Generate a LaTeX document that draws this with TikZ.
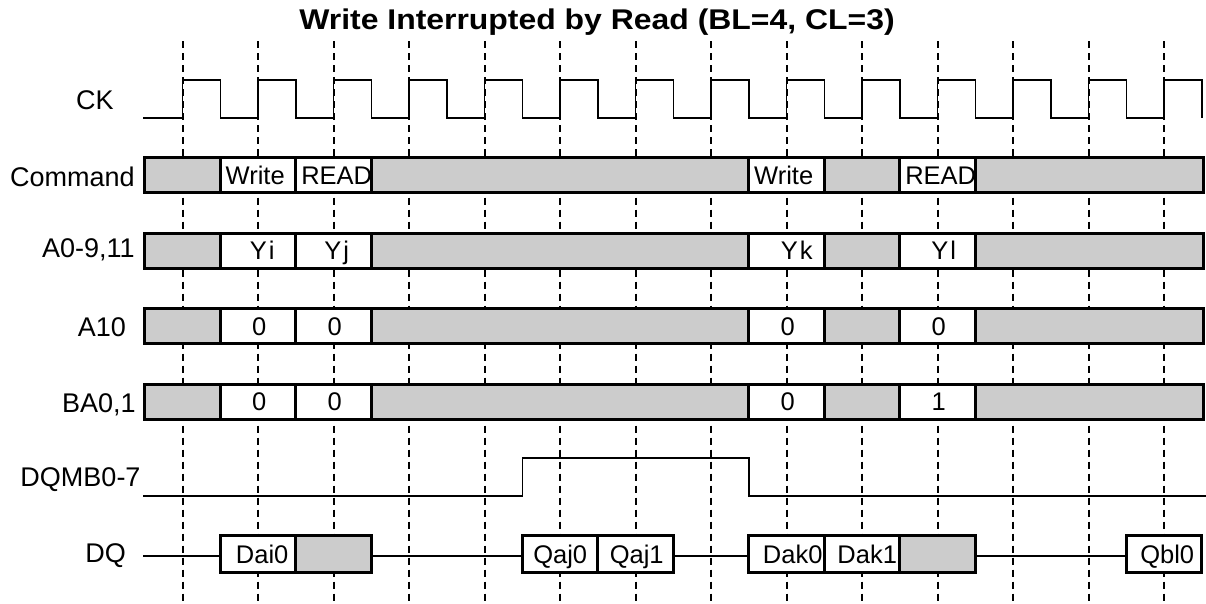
\documentclass[tikz,border=0pt]{standalone}
\usepackage{fontspec}
\setmainfont{Liberation Sans}
\definecolor{busgray}{RGB}{204,204,204}
\tikzset{
  gridline/.style={line width=1.9pt, dash pattern=on 7pt off 5pt},
  clk/.style={line width=1.5pt},
  sig/.style={line width=1.8pt},
  busbox/.style={draw, line width=3pt, rectangle, inner sep=0pt, outer sep=0pt},
  boxtxt/.style={font=\fontsize{25.5}{30}\selectfont, text height=18.2pt, text depth=0pt, inner sep=0pt},
  lbl/.style={font=\fontsize{27}{31}\selectfont, text height=19.3pt, text depth=0pt, inner sep=0pt},
}
\newcommand{\bseg}[8]{%
  \node[busbox, fill=#5, minimum height=#8, minimum width={75.5*((#4)-(#3))}] (#1) at ({182.7+75.5*((#3)+(#4))/2},#2) {};
  \node[boxtxt, xshift=#7] (#1t) at (#1.center) {#6};
}
\begin{document}
\begin{tikzpicture}[x=1pt,y=-1pt]
\useasboundingbox[fill=white] (0,0) rectangle (1206,604);

% title
\node[font=\fontsize{28.5}{33}\selectfont\bfseries, text height=20.4pt, text depth=0pt, inner sep=0pt] (title) at (597,19.7) {\scalebox{1.12}[1]{Write Interrupted by Read (BL=4, CL=3)}};

% dashed clock edge lines
\foreach \k in {0,...,13} {
  \draw[gridline] ({182.7+75.5*\k},41.5) -- ({182.7+75.5*\k},604);
}

% labels
\node[lbl] (lck)  at (95,99.7)   {CK};
\node[lbl] (lcmd) at (72.5,176.7) {Command};
\node[lbl] (ladr) at (88.3,248)  {A0-9,11};
\node[lbl] (la10) at (101.8,327) {A10};
\node[lbl] (lba)  at (98.8,403)  {BA0,1};
\node[lbl] (ldqm) at (80.5,477)  {DQMB0-7};
\node[lbl] (ldq)  at (105.6,552.5) {DQ};

% clock
\draw[clk] (143.3,118) -- (182.7,118)
  foreach \k in {0,...,12} {
    -- ({182.7+75.5*\k},80) -- ({182.7+75.5*(\k+0.5)},80)
    -- ({182.7+75.5*(\k+0.5)},118) -- ({182.7+75.5*(\k+1)},118)
  }
  -- ({182.7+75.5*13},80) -- ({182.7+75.5*13.5},80) -- ({182.7+75.5*13.5},118);

% DQMB
\draw[sig] (143.3,496) -- ({182.7+75.5*4.5},496) -- ({182.7+75.5*4.5},458.3)
  -- ({182.7+75.5*7.5},458.3) -- ({182.7+75.5*7.5},496) -- (1206,496);

% DQ connecting line pieces
\coordinate (dqs) at (143.3,556);

% Command
\bseg{c1}{175}{-0.5}{0.5}{busgray}{}{0pt}{35pt}
\bseg{c2}{175}{0.5}{1.5}{white}{Write}{-3pt}{35pt}
\bseg{c3}{175}{1.5}{2.5}{white}{READ}{3pt}{35pt}
\bseg{c4}{175}{2.5}{7.5}{busgray}{}{0pt}{35pt}
\bseg{c5}{175}{7.5}{8.5}{white}{Write}{-3pt}{35pt}
\bseg{c6}{175}{8.5}{9.5}{busgray}{}{0pt}{35pt}
\bseg{c7}{175}{9.5}{10.5}{white}{READ}{3pt}{35pt}
\bseg{c8}{175}{10.5}{13.514}{busgray}{}{0pt}{35pt}

% A0-9,11
\bseg{a1}{250.5}{-0.5}{0.5}{busgray}{}{0pt}{35pt}
\bseg{a2}{250.5}{0.5}{1.5}{white}{Y\kern2pt i}{4pt}{35pt}
\bseg{a3}{250.5}{1.5}{2.5}{white}{Y\kern2pt j}{3pt}{35pt}
\bseg{a4}{250.5}{2.5}{7.5}{busgray}{}{0pt}{35pt}
\bseg{a5}{250.5}{7.5}{8.5}{white}{Y\kern2pt k}{10pt}{35pt}
\bseg{a6}{250.5}{8.5}{9.5}{busgray}{}{0pt}{35pt}
\bseg{a7}{250.5}{9.5}{10.5}{white}{Y\kern2pt l}{6pt}{35pt}
\bseg{a8}{250.5}{10.5}{13.514}{busgray}{}{0pt}{35pt}

% A10
\bseg{b1}{326}{-0.5}{0.5}{busgray}{}{0pt}{35pt}
\bseg{b2}{326}{0.5}{1.5}{white}{0}{1pt}{35pt}
\bseg{b3}{326}{1.5}{2.5}{white}{0}{1pt}{35pt}
\bseg{b4}{326}{2.5}{7.5}{busgray}{}{0pt}{35pt}
\bseg{b5}{326}{7.5}{8.5}{white}{0}{1pt}{35pt}
\bseg{b6}{326}{8.5}{9.5}{busgray}{}{0pt}{35pt}
\bseg{b7}{326}{9.5}{10.5}{white}{0}{1pt}{35pt}
\bseg{b8}{326}{10.5}{13.514}{busgray}{}{0pt}{35pt}

% BA0,1
\bseg{e1}{401.7}{-0.5}{0.5}{busgray}{}{0pt}{35pt}
\bseg{e2}{401.7}{0.5}{1.5}{white}{0}{1pt}{35pt}
\bseg{e3}{401.7}{1.5}{2.5}{white}{0}{1pt}{35pt}
\bseg{e4}{401.7}{2.5}{7.5}{busgray}{}{0pt}{35pt}
\bseg{e5}{401.7}{7.5}{8.5}{white}{0}{1pt}{35pt}
\bseg{e6}{401.7}{8.5}{9.5}{busgray}{}{0pt}{35pt}
\bseg{e7}{401.7}{9.5}{10.5}{white}{1}{1pt}{35pt}
\bseg{e8}{401.7}{10.5}{13.514}{busgray}{}{0pt}{35pt}

% DQ
\bseg{d1}{554.2}{0.5}{1.5}{white}{Dai0}{4pt}{36.5pt}
\bseg{d2}{554.2}{1.5}{2.5}{busgray}{}{0pt}{36.5pt}
\bseg{q0}{554.2}{4.5}{5.5}{white}{Qaj0}{0pt}{36.5pt}
\bseg{q1}{554.2}{5.5}{6.5}{white}{Qaj1}{1pt}{36.5pt}
\bseg{k0}{554.2}{7.5}{8.5}{white}{Dak0}{6pt}{36.5pt}
\bseg{k1}{554.2}{8.5}{9.5}{white}{Dak1}{5pt}{36.5pt}
\bseg{k2}{554.2}{9.5}{10.5}{busgray}{}{0pt}{36.5pt}
\bseg{q2}{554.2}{12.5}{13.5}{white}{Qbl0}{3pt}{36.5pt}

\draw[sig] (dqs) -- (dqs -| d1.west);
\draw[sig] (d2.east |- dqs) -- (dqs -| q0.west);
\draw[sig] (q1.east |- dqs) -- (dqs -| k0.west);
\draw[sig] (k2.east |- dqs) -- (dqs -| q2.west);
\end{tikzpicture}
\end{document}
